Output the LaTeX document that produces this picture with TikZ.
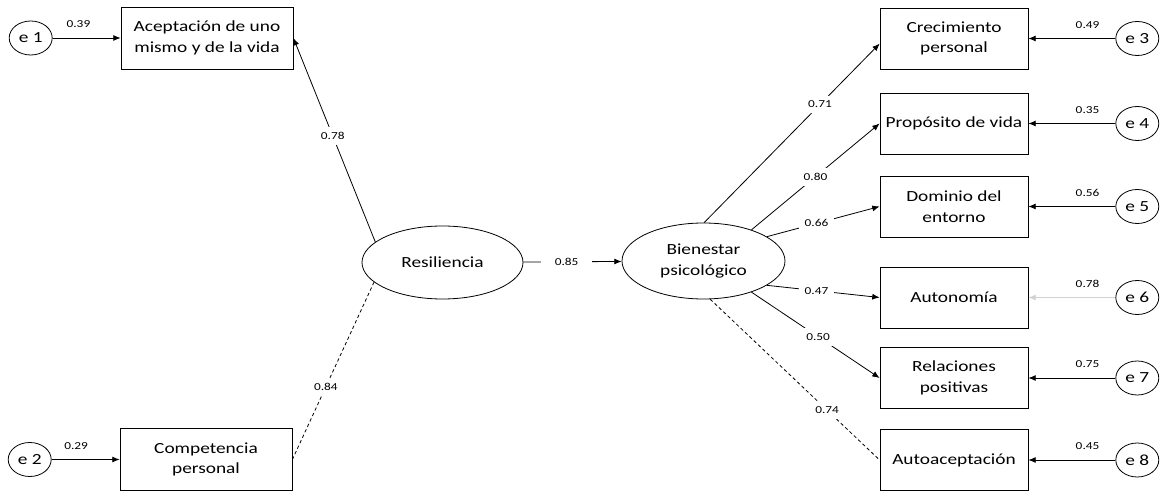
\documentclass[tikz,border=0pt]{standalone}
\usepackage{fontspec}
\setmainfont{Carlito}[FakeStretch=1.25]
\usetikzlibrary{arrows.meta,positioning,shapes.geometric}

\begin{document}
\begin{tikzpicture}[x=0.75pt,y=-0.75pt,line width=0.6pt,>={Latex[length=5.5pt,width=4.5pt]}]
        \tikzstyle{obs}=[draw,rectangle,minimum width=111pt,minimum height=45.75pt,align=center,font=\fontsize{11.6}{15.5}\selectfont]
        \tikzstyle{obsl}=[obs,minimum width=129pt,minimum height=46.5pt]
        \tikzstyle{lat}=[draw,ellipse,inner sep=1pt,align=center,font=\fontsize{11.6}{15.5}\selectfont]
        \tikzstyle{err}=[draw,ellipse,minimum width=32.25pt,minimum height=25.5pt,inner sep=0pt,font=\fontsize{11.6}{15.5}\selectfont]
        \tikzstyle{coef}=[fill=white,inner sep=4pt,font=\fontsize{8}{9}\selectfont]
        \tikzstyle{ecoef}=[above=5.5pt,inner sep=2pt,font=\fontsize{8}{9}\selectfont]
        \tikzstyle{weak}=[dash pattern=on 2.5pt off 2pt]

        \useasboundingbox (0,0) rectangle (1161,491);

        \node[obsl] (ACE) at (207,38)    {Aceptación de uno\\mismo y de la vida};
        \node[obsl] (COM) at (206,459.5) {Competencia\\personal};
        \node[lat,minimum width=120.75pt,minimum height=54.75pt] (RES) at (442.5,262.5) {Resiliencia};
        \node[lat,minimum width=122.25pt,minimum height=57pt]    (BIE) at (703.5,261)   {Bienestar\\psicológico};
        \node[obs]  (CRE) at (954,38.5)  {Crecimiento\\personal};
        \node[obs]  (PRO) at (954,123.5) {Propósito de vida};
        \node[obs]  (DOM) at (954,206.5) {Dominio del\\entorno};
        \node[obs]  (AUT) at (954,297.5) {Autonomía};
        \node[obs]  (REL) at (954,378)   {Relaciones\\positivas};
        \node[obs]  (ACP) at (954,460)   {Autoaceptación};
        \node[err]  (E1) [left=51pt of ACE]     {e 1};
        \node[err]  (E2) [left=51pt of COM]     {e 2};
        \node[err]  (E3) [right=65.25pt of CRE] {e 3};
        \node[err]  (E4) [right=65.25pt of PRO] {e 4};
        \node[err]  (E5) [right=65.25pt of DOM] {e 5};
        \node[err]  (E6) [right=65.25pt of AUT] {e 6};
        \node[err]  (E7) [right=65.25pt of REL] {e 7};
        \node[err]  (E8) [right=65.25pt of ACP] {e 8};

        \path[->]
                  (E1) edge node[ecoef,pos=0.38]        {0.39} (ACE)% errores
                  (E2) edge node[ecoef,pos=0.36]        {0.29} (COM)
                  (E3) edge node[ecoef,pos=0.32]        {0.49} (CRE)
                  (E4) edge node[ecoef,pos=0.32]        {0.35} (PRO)
                  (E5) edge node[ecoef,pos=0.32]        {0.56} (DOM)
                  (E6) edge[draw=gray!35] node[ecoef,pos=0.32] {0.78} (AUT)
                  (E7) edge node[ecoef,pos=0.32]        {0.75} (REL)
                  (E8) edge node[ecoef,pos=0.32]        {0.45} (ACP)
                  (RES.163) edge node[coef,pos=0.52]    {0.78} (ACE.east)% resiliencia
                  (RES.196) edge[-,weak] node[coef,pos=0.59] {0.84} (COM.east)
                  (RES) edge node[coef,pos=0.44,inner xsep=10pt] {0.85} (BIE)
                  (BIE.89)  edge node[coef,pos=0.66]    {0.71} (CRE.184)% bienestar
                  (BIE.33)  edge node[coef,pos=0.5]     {0.80} (PRO.west)
                  (BIE.21)  edge node[coef,pos=0.44]    {0.66} (DOM.west)
                  (BIE.339) edge node[coef,pos=0.44]    {0.47} (AUT.west)
                  (BIE.327) edge node[coef,pos=0.52]    {0.50} (REL.west)
                  (BIE.280) edge[-,weak] node[coef,pos=0.69] {0.74} (ACP.west);
\end{tikzpicture}
\end{document}
